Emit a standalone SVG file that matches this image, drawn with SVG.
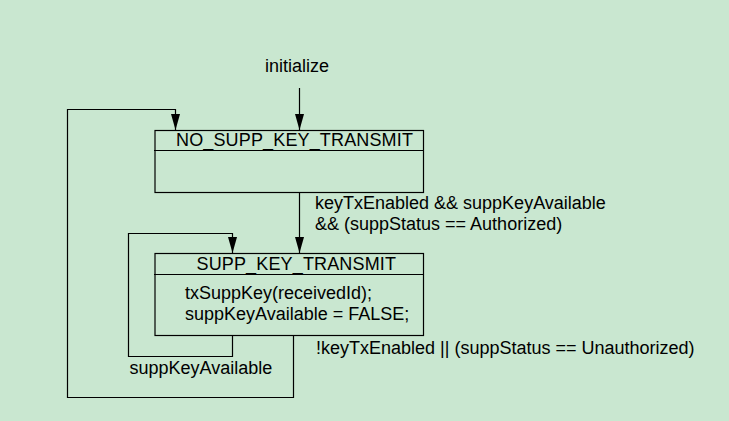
<svg xmlns="http://www.w3.org/2000/svg" width="729" height="421" viewBox="0 0 729 421">
<defs>
<marker id="ah" viewBox="0 0 16 10" refX="16" refY="5" markerWidth="16" markerHeight="10" markerUnits="userSpaceOnUse" orient="auto">
<path d="M0,0.5 L16,5 L0,9.5 Z" fill="#000"/>
</marker>
<style>
.t{font-family:"Liberation Sans",Arial,sans-serif;font-size:18px;fill:#000}
.h{letter-spacing:0.15px}
.b{fill:none;stroke:#000;stroke-width:1.2}
.c{fill:none;stroke:#000;stroke-width:1.2}
</style>
</defs>
<rect x="0" y="0" width="729" height="421" fill="#C9E7D0"/>
<g id="initial">
<text class="t" x="297" y="72" text-anchor="middle">initialize</text>
</g>
<g id="no_supp_key_transmit">
<rect class="b" x="155" y="130.5" width="268.5" height="62"/>
<line class="b" x1="154" y1="150.5" x2="423.5" y2="150.5"/>
<text class="t h" x="176" y="146">NO_SUPP_KEY_TRANSMIT</text>
</g>
<g id="supp_key_transmit">
<rect class="b" x="155" y="253.5" width="268.5" height="82"/>
<line class="b" x1="154" y1="274.5" x2="423.5" y2="274.5"/>
<text class="t h" x="196.5" y="270">SUPP_KEY_TRANSMIT</text>
<text class="t" x="185" y="299">txSuppKey(receivedId);</text>
<text class="t" x="185" y="319.5">suppKeyAvailable = FALSE;</text>
</g>
<g id="connectors">
<path class="c" d="M299.5,88 V130" marker-end="url(#ah)"/>
<path class="c" d="M299.5,192.5 V253" marker-end="url(#ah)"/>
<path class="c" d="M232.5,335.5 V356.5 H128.5 V233.5 H232.5 V253" marker-end="url(#ah)"/>
<path class="c" d="M293.5,335.5 V397.5 H67.5 V109.5 H175.5 V130" marker-end="url(#ah)"/>
<text class="t" x="315" y="208.5">keyTxEnabled &amp;&amp; suppKeyAvailable</text>
<text class="t" x="315" y="230">&amp;&amp; (suppStatus == Authorized)</text>
<text class="t" x="316" y="354">!keyTxEnabled || (suppStatus == Unauthorized)</text>
<text class="t" x="129.5" y="373.5">suppKeyAvailable</text>
</g>
</svg>
